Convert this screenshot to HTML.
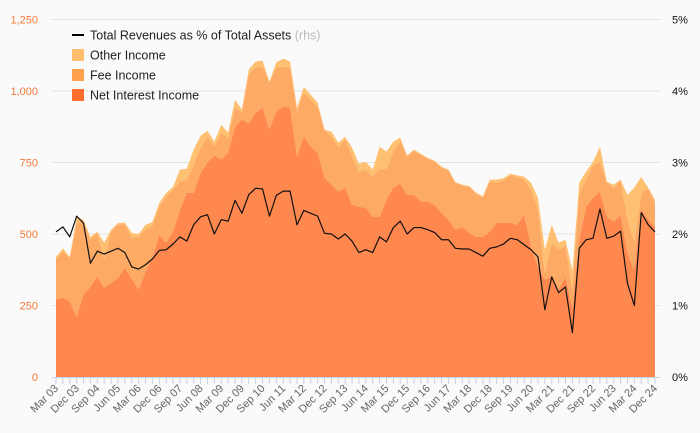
<!DOCTYPE html>
<html><head><meta charset="utf-8"><style>
body{margin:0;background:#fafafa;}
svg{display:block;font-family:"Liberation Sans",sans-serif;}
</style></head><body>
<svg id="chart" width="700" height="433"></svg>
<script>
const categories=(function(){const m=['Mar','Jun','Sep','Dec'];const a=[];for(let y=3;y<=24;y++)for(let q=0;q<4;q++)a.push(m[q]+' '+String(y).padStart(2,'0'));return a;})();
const netInterest=[270,277,263,210,287,315,350,312,329,346,381,343,305,367,416,497,469,508,585,644,644,714,749,774,760,784,875,900,886,924,942,865,928,945,942,770,840,805,784,697,672,648,662,602,595,592,560,560,620,662,676,637,637,613,613,602,574,550,515,525,504,490,490,508,539,539,539,532,567,455,385,340,350,305,350,240,480,595,626,648,560,543,567,434,375,585,550,525];
const feeIncome=[143,161,153,329,252,165,153,98,179,186,154,143,185,148,112,98,161,146,98,46,98,88,91,31,94,53,67,24,171,158,143,164,154,140,140,158,154,165,161,168,168,157,168,168,121,133,140,168,105,126,147,133,154,164,150,151,158,172,164,144,161,151,137,175,140,147,165,168,123,200,200,24,120,140,110,60,160,95,114,104,120,117,123,116,95,55,110,75];
const otherIncome=[7,12,4,18,11,10,5,60,7,6,5,18,10,17,14,14,14,11,42,38,53,42,21,18,28,17,28,11,18,21,21,4,18,28,21,14,21,17,14,0,18,14,10,32,29,27,25,77,63,35,14,5,4,3,3,3,3,3,3,3,3,4,5,7,11,9,7,5,10,24,42,81,62,25,20,70,40,28,12,53,3,12,0,87,192,60,2,20];
const ratioPct=[2.03,2.10,1.96,2.25,2.15,1.59,1.76,1.72,1.76,1.80,1.74,1.54,1.51,1.57,1.65,1.77,1.78,1.86,1.96,1.90,2.13,2.24,2.27,2.0,2.2,2.18,2.47,2.29,2.55,2.64,2.63,2.25,2.54,2.60,2.60,2.13,2.33,2.29,2.25,2.01,2.0,1.93,2.0,1.90,1.74,1.78,1.74,1.96,1.89,2.09,2.18,2.0,2.09,2.09,2.06,2.02,1.92,1.92,1.80,1.79,1.79,1.74,1.69,1.80,1.82,1.86,1.94,1.92,1.85,1.78,1.68,0.94,1.40,1.18,1.26,0.62,1.80,1.92,1.94,2.35,1.94,1.97,2.04,1.31,1.00,2.30,2.13,2.03];
const leftTicks=[0,250,500,750,1000,1250];
const leftTickLabels=['0','250','500','750','1,000','1,250'];
const rightTicks=[0,1,2,3,4,5];
const rightTickLabels=['0%','1%','2%','3%','4%','5%'];

const NS='http://www.w3.org/2000/svg';
const svg=document.getElementById('chart');
const X0=56,X1=655,Y0=377,Y1=19.5;
const xs=i=>X0+(X1-X0)*i/(categories.length-1);
const yL=v=>Y0-(Y0-Y1)*v/1250;
const yR=v=>Y0-(Y0-Y1)*v/5;
function mk(t,a){const e=document.createElementNS(NS,t);for(const k in a)e.setAttribute(k,a[k]);svg.appendChild(e);return e;}

leftTicks.forEach((t,i)=>{
  if(t>0){const g=mk('line',{x1:52,x2:660,y1:yL(t),y2:yL(t),stroke:'#e2e2e2','stroke-width':1});
  
  }
  const l=mk('text',{x:38,y:yL(t)+4,'text-anchor':'end','font-size':11,fill:'#f47a3a'});
  l.textContent=leftTickLabels[i];
  
  
});
rightTicks.forEach((t,i)=>{
  const l=mk('text',{x:672,y:yR(t)+4,'font-size':11,fill:'#111'});
  l.textContent=rightTickLabels[i];
  
  
});

function area(lo,hi,fill,name){
  let d='';
  for(let i=0;i<hi.length;i++)d+=(i?'L':'M')+xs(i).toFixed(2)+','+yL(hi[i]).toFixed(2);
  for(let i=lo.length-1;i>=0;i--)d+='L'+xs(i).toFixed(2)+','+yL(lo[i]).toFixed(2);
  const p=mk('path',{d:d+'Z',fill:fill});
  
  
}
const zero=netInterest.map(()=>0);
const s1=netInterest.slice();
const s2=s1.map((v,i)=>v+feeIncome[i]);
const s3=s2.map((v,i)=>v+otherIncome[i]);
area(s2,s3,'#ffc171','other-income-area');
area(s1,s2,'#fdaa65','fee-income-area');
area(zero,s1,'#ff884e','net-interest-income-area');

let ld='';ratioPct.forEach((v,i)=>{ld+=(i?'L':'M')+xs(i).toFixed(2)+','+yR(v).toFixed(2);});
const line=mk('path',{d:ld,fill:'none',stroke:'#111','stroke-width':1.2,'stroke-linejoin':'round'});



const ax=mk('line',{x1:52,x2:660,y1:Y0+0.5,y2:Y0+0.5,stroke:'#c6d2e8','stroke-width':1});


categories.forEach((c,i)=>{
  const tk=mk('line',{x1:xs(i),x2:xs(i),y1:Y0,y2:Y0+7,stroke:'#c6d2e8','stroke-width':1});
  
  
  if(i%3===0){
    const x=xs(i)+3,y=Y0+12;
    const t=mk('text',{x:x,y:y,'text-anchor':'end','font-size':11,fill:'#666',transform:`rotate(-45 ${x} ${y})`});
    t.textContent=c;
    
    
  }
});

const leg=[['line','#000','Total Revenues as % of Total Assets'],['sw','#ffbf6c','Other Income'],['sw','#ffa24d','Fee Income'],['sw','#ff6e2e','Net Interest Income']];
leg.forEach((e,i)=>{
  const y=35+i*20;
  if(e[0]==='line'){const l=mk('line',{x1:72,x2:84,y1:y,y2:y,stroke:'#000','stroke-width':2});
    }
  else{const r=mk('rect',{x:72,y:y-6,width:12,height:12,fill:e[1]});
    }
  const t=mk('text',{x:90,y:y+4.5,'font-size':12.5,fill:'#222'});
  t.textContent=e[2];
  if(i===0){const s=document.createElementNS(NS,'tspan');s.setAttribute('fill','#bbb');s.textContent=' (rhs)';t.appendChild(s);}
  
  
});
</script>
</body></html>
